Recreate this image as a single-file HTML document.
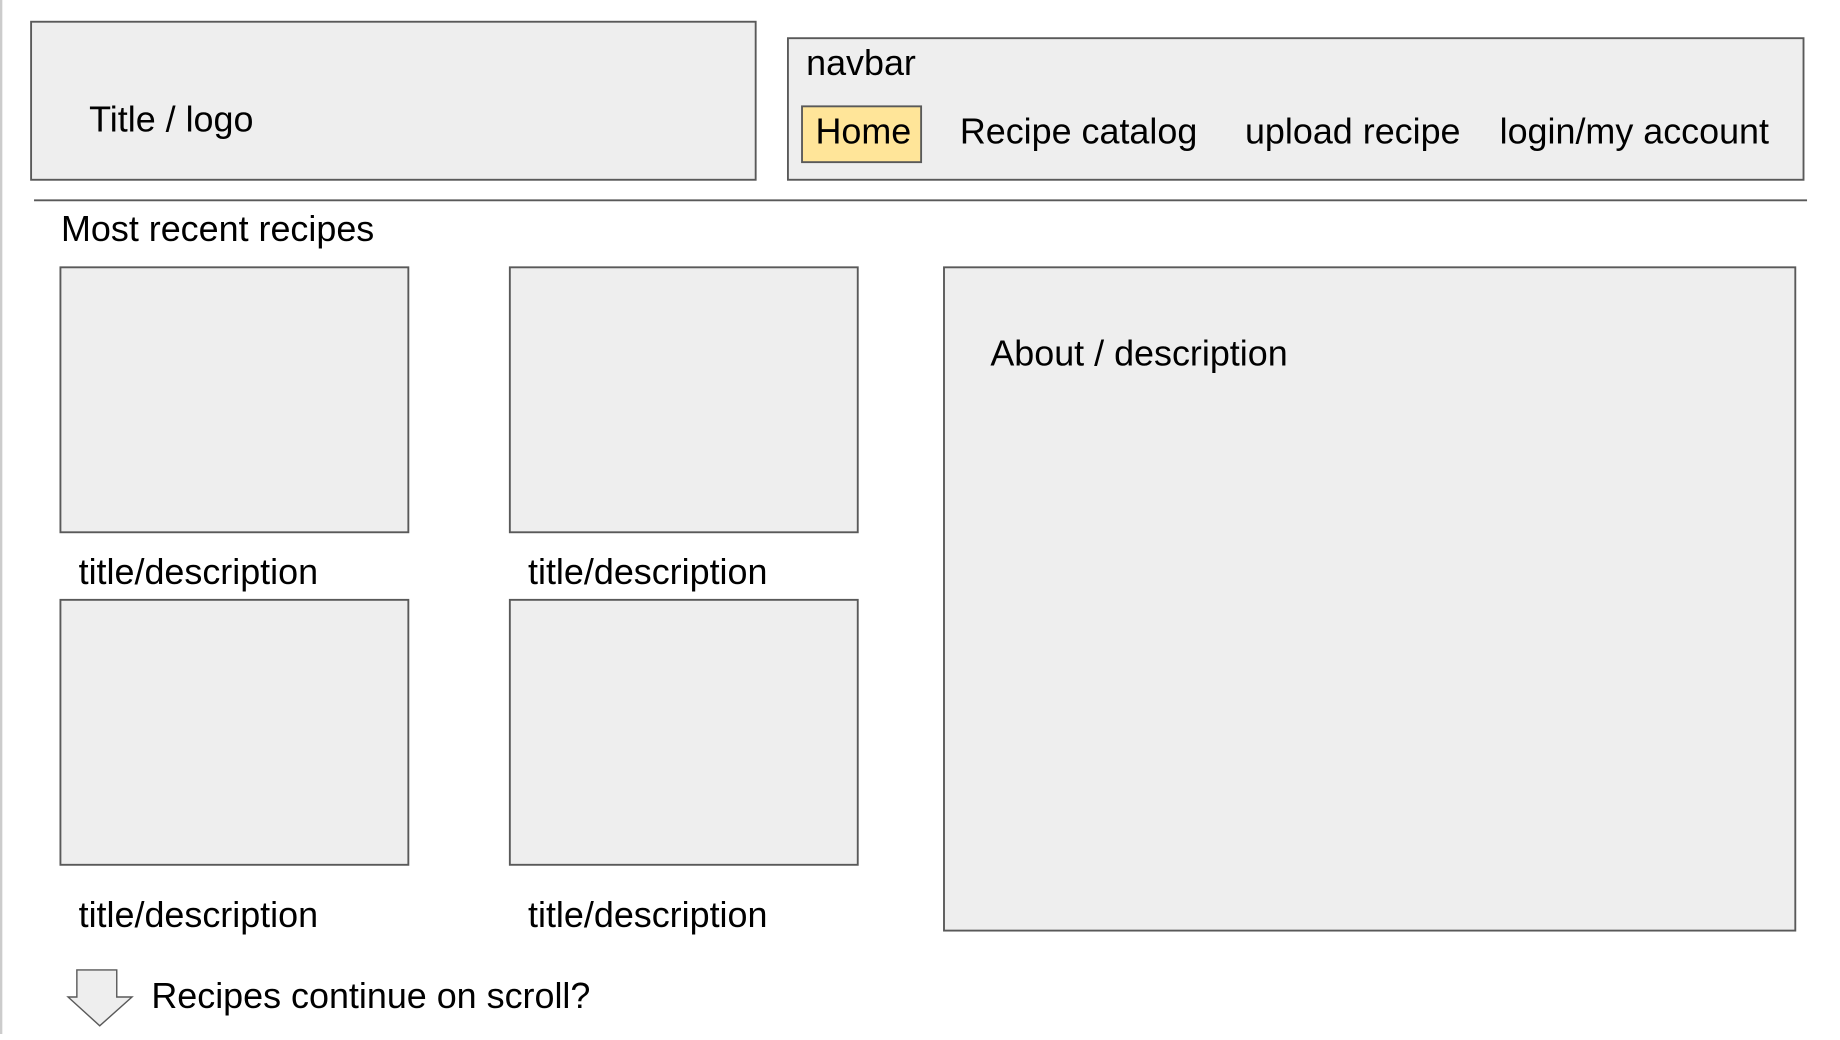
<!DOCTYPE html>
<html><head><meta charset="utf-8"><style>
html,body{margin:0;padding:0;background:#fff;width:1840px;height:1034px;overflow:hidden}
#s{position:absolute;left:0;top:0;width:1570px;height:880px;transform-origin:0 0;transform:scale(1.1734,1.175)}
text{font-family:"Liberation Sans",Arial,sans-serif;font-size:30.6px;fill:#000}
</style></head><body>
<div id="s">
<svg width="1570" height="880" viewBox="0 0 1570 880">
<line x1="1" y1="0" x2="1" y2="880" stroke="#ccc" stroke-width="2"/>
<g fill="#eeeeee" stroke="#595959" stroke-width="1.6">
<rect x="26.5" y="18.5" width="617.5" height="134.5"/>
<rect x="671.5" y="32.5" width="865.5" height="120.5"/>
<rect x="683.5" y="90.5" width="101.5" height="47.5" fill="#ffe599"/>
<rect x="51.5" y="227.5" width="296.5" height="225.5"/>
<rect x="434.5" y="227.5" width="296.5" height="225.5"/>
<rect x="51.5" y="510.5" width="296.5" height="225.5"/>
<rect x="434.5" y="510.5" width="296.5" height="225.5"/>
<rect x="804.5" y="227.5" width="725.5" height="564.5"/>
<polygon points="65.5,825.5 99.5,825.5 99.5,848.5 112.5,848.5 85,873 58,848.5 65.5,848.5" stroke-width="1.2"/>
</g>
<line x1="29" y1="170.5" x2="1540" y2="170.5" stroke="#595959" stroke-width="1.6"/>
<text x="76" y="112">Title / logo</text>
<text x="687" y="64">navbar</text>
<text x="695" y="122">Home</text>
<text x="818" y="122">Recipe catalog</text>
<text x="1061" y="122">upload recipe</text>
<text x="1278" y="122">login/my account</text>
<text x="52" y="205">Most recent recipes</text>
<text x="67" y="497">title/description</text>
<text x="450" y="497">title/description</text>
<text x="67" y="789">title/description</text>
<text x="450" y="789">title/description</text>
<text x="844" y="311">About / description</text>
<text x="129" y="858">Recipes continue on scroll?</text>
</svg>
</div>
</body></html>
